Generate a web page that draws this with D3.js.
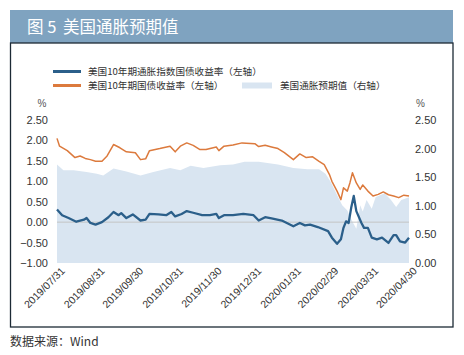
<!DOCTYPE html>
<html><head><meta charset="utf-8">
<script src="https://cdn.jsdelivr.net/npm/d3@7"></script>
<style>
body{margin:0;background:#fff;}
svg{display:block;}
text{font-family:"Liberation Sans",Arial,"Noto Sans CJK SC",sans-serif;}
.cjk{font-family:"Noto Sans CJK SC",sans-serif;}
</style></head>
<body><svg id="c" width="464" height="355"></svg>
<script>
// ---- data ----
const nomDates = ["2019-07-31","2019-08-02","2019-08-08","2019-08-14","2019-08-18","2019-08-22","2019-08-26","2019-08-30","2019-09-04","2019-09-08","2019-09-13","2019-09-18","2019-09-23","2019-09-30","2019-10-04","2019-10-08","2019-10-11","2019-10-19","2019-10-27","2019-10-31","2019-11-04","2019-11-09","2019-11-14","2019-11-19","2019-11-24","2019-12-02","2019-12-04","2019-12-08","2019-12-15","2019-12-22","2020-01-01","2020-01-04","2020-01-09","2020-01-14","2020-01-19","2020-01-24","2020-01-31","2020-02-05","2020-02-10","2020-02-15","2020-02-20","2020-02-24","2020-02-28","2020-03-01","2020-03-05","2020-03-08","2020-03-10","2020-03-13","2020-03-15","2020-03-17","2020-03-20","2020-03-23","2020-03-25","2020-03-29","2020-04-02","2020-04-06","2020-04-10","2020-04-14","2020-04-18","2020-04-22","2020-04-26","2020-04-30"];
const nomVals = [2.05,1.86,1.75,1.58,1.62,1.56,1.53,1.49,1.49,1.62,1.90,1.82,1.72,1.70,1.53,1.55,1.75,1.80,1.86,1.72,1.86,1.94,1.88,1.78,1.78,1.84,1.75,1.86,1.89,1.94,1.92,1.85,1.88,1.84,1.80,1.70,1.53,1.67,1.58,1.60,1.49,1.41,1.17,1.00,0.76,0.55,0.84,0.76,0.96,1.21,0.96,0.80,0.91,0.76,0.64,0.68,0.74,0.67,0.64,0.60,0.66,0.64];

const tipsDates = ["2019-07-31","2019-08-04","2019-08-09","2019-08-15","2019-08-21","2019-08-23","2019-08-26","2019-08-30","2019-09-04","2019-09-09","2019-09-13","2019-09-17","2019-09-19","2019-09-23","2019-09-28","2019-10-04","2019-10-08","2019-10-11","2019-10-18","2019-10-24","2019-10-28","2019-10-31","2019-11-05","2019-11-09","2019-11-14","2019-11-21","2019-11-27","2019-12-02","2019-12-04","2019-12-08","2019-12-15","2019-12-23","2019-12-31","2020-01-04","2020-01-09","2020-01-14","2020-01-22","2020-01-31","2020-02-05","2020-02-09","2020-02-13","2020-02-19","2020-02-27","2020-03-01","2020-03-05","2020-03-08","2020-03-10","2020-03-12","2020-03-14","2020-03-16","2020-03-18","2020-03-20","2020-03-24","2020-03-26","2020-03-29","2020-04-01","2020-04-05","2020-04-09","2020-04-14","2020-04-18","2020-04-20","2020-04-23","2020-04-27","2020-04-30"];
const tipsVals = [0.31,0.17,0.10,0.01,0.06,0.10,-0.02,-0.06,0.00,0.12,0.25,0.17,0.22,0.10,0.19,0.04,0.06,0.20,0.19,0.17,0.25,0.14,0.20,0.27,0.23,0.17,0.17,0.20,0.10,0.17,0.17,0.20,0.17,0.04,0.12,0.09,0.04,-0.10,-0.02,-0.08,-0.06,-0.12,-0.22,-0.38,-0.53,-0.42,-0.14,0.02,-0.02,0.35,0.64,0.27,-0.02,-0.14,-0.14,-0.38,-0.42,-0.38,-0.51,-0.32,-0.32,-0.47,-0.50,-0.38];

const beDates = ["2019-07-31","2019-08-05","2019-08-13","2019-08-23","2019-08-31","2019-09-05","2019-09-13","2019-09-23","2019-10-04","2019-10-14","2019-10-27","2019-11-04","2019-11-12","2019-11-22","2019-12-05","2019-12-15","2019-12-24","2020-01-04","2020-01-19","2020-01-31","2020-02-11","2020-02-20","2020-02-25","2020-02-29","2020-03-05","2020-03-09","2020-03-13","2020-03-17","2020-03-20","2020-03-23","2020-03-25","2020-03-28","2020-04-01","2020-04-04","2020-04-11","2020-04-16","2020-04-20","2020-04-24","2020-04-30"];
const beVals = [1.72,1.62,1.62,1.59,1.56,1.53,1.65,1.60,1.53,1.59,1.66,1.62,1.70,1.66,1.71,1.72,1.77,1.77,1.72,1.66,1.64,1.64,1.56,1.42,1.19,1.01,0.92,0.72,0.60,1.01,0.90,1.10,0.95,1.15,1.22,1.10,0.98,1.10,1.15];

const xTicks = ["2019-07-31","2019-08-31","2019-09-30","2019-10-31","2019-11-30","2019-12-31","2020-01-31","2020-02-29","2020-03-31","2020-04-30"];
const leftTicks = [2.5,2.0,1.5,1.0,0.5,0.0,-0.5,-1.0];
const rightTicks = [2.5,2.0,1.5,1.0,0.5,0.0];
const titleNum = "图 5";
const titleText = "美国通胀预期值";
const legendLabels = ["美国10年期通胀指数国债收益率（左轴）","美国10年期国债收益率（左轴）","美国通胀预期值（右轴）"];
const source = "数据来源：Wind";

// ---- drawing ----
const parse = d3.timeParse("%Y-%m-%d");
const svg = d3.select("#c");
const C = {blue:"#2b5f8a", orange:"#dc7a3d", area:"#d9e5f1", bar:"#7fa3c0"};

svg.append("rect").attr("x",10).attr("y",10).attr("width",443).attr("height",33).attr("fill",C.bar);
svg.append("text").attr("class","cjk").attr("x",27).attr("y",33).attr("fill","#fff")
  .attr("font-size",16.5).text(titleNum);
svg.append("text").attr("class","cjk").attr("x",63).attr("y",33).attr("fill","#fff")
  .attr("font-size",16.5).text(titleText);
svg.append("rect").attr("x",10.5).attr("y",43).attr("width",442.5).attr("height",284)
  .attr("fill","none").attr("stroke","#1d2a35").attr("stroke-width",1.3);

const x = d3.scaleTime().domain([parse(xTicks[0]), parse(xTicks[xTicks.length-1])]).range([57,409]);
const yL = d3.scaleLinear().domain([-1,2.5]).range([263,120]);
const yR = d3.scaleLinear().domain([0,2.5]).range([263,120]);

const be = beDates.map((d,i)=>({d:parse(d),v:beVals[i]}));
const nom = nomDates.map((d,i)=>({d:parse(d),v:nomVals[i]}));
const tips = tipsDates.map((d,i)=>({d:parse(d),v:tipsVals[i]}));

svg.append("path").datum(be).attr("fill",C.area)
  .attr("d", d3.area().x(d=>x(d.d)).y0(yR(0)).y1(d=>yR(d.v)));

svg.append("line").attr("x1",x.range()[0]).attr("x2",x.range()[1])
  .attr("y1",yL(0)).attr("y2",yL(0)).attr("stroke","#c4c4c4").attr("stroke-width",1);

svg.append("path").datum(nom).attr("fill","none").attr("stroke",C.orange).attr("stroke-width",1.5)
  .attr("stroke-linejoin","round").attr("d", d3.line().x(d=>x(d.d)).y(d=>yL(d.v)));
svg.append("path").datum(tips).attr("fill","none").attr("stroke",C.blue).attr("stroke-width",2.3)
  .attr("stroke-linejoin","round").attr("d", d3.line().x(d=>x(d.d)).y(d=>yL(d.v)));

// axes
const fmt = d3.format(".2f");
const gL = svg.append("g").attr("transform","translate(48,0)")
  .call(d3.axisLeft(yL).tickValues(leftTicks).tickFormat(fmt).tickSize(0).tickPadding(0));
gL.select(".domain").remove();
gL.selectAll("text").attr("font-size",11).attr("fill","#333").attr("font-family","Liberation Sans, Arial");

const gR = svg.append("g").attr("transform","translate(415,0)")
  .call(d3.axisRight(yR).tickValues(rightTicks).tickFormat(fmt).tickSize(0).tickPadding(0));
gR.select(".domain").remove();
gR.selectAll("text").attr("font-size",11).attr("fill","#333").attr("font-family","Liberation Sans, Arial");

const gX = svg.append("g")
  .call(d3.axisBottom(x).tickValues(xTicks.map(parse)).tickFormat(d3.timeFormat("%Y/%m/%d")).tickSize(0));
gX.select(".domain").remove();
gX.selectAll(".tick").attr("transform", null);
gX.selectAll(".tick text")
  .attr("font-size",10.5).attr("fill","#333").attr("font-family","Liberation Sans, Arial")
  .attr("text-anchor","end").attr("y",null).attr("dy","0.35em")
  .attr("transform", d=>`translate(${x(d)+6},269) rotate(-45)`);

svg.append("text").attr("x",42).attr("y",107).attr("text-anchor","middle").attr("font-size",10).attr("fill","#555").text("%");
svg.append("text").attr("x",416).attr("y",107).attr("font-size",10).attr("fill","#555").text("%");

// legend
const lg = svg.append("g");
lg.append("line").attr("x1",53).attr("x2",81).attr("y1",71.5).attr("y2",71.5).attr("stroke",C.blue).attr("stroke-width",3);
lg.append("line").attr("x1",53).attr("x2",81).attr("y1",85.5).attr("y2",85.5).attr("stroke",C.orange).attr("stroke-width",3);
lg.append("rect").attr("x",242).attr("y",82.5).attr("width",30).attr("height",6).attr("fill",C.area);
[[88,71.5],[88,85.5],[280,85.5]].forEach((p,i)=>{
  lg.append("text").attr("class","cjk").attr("x",p[0]).attr("y",p[1]).attr("dy","0.35em")
    .attr("font-size",9.6).attr("fill","#333").text(legendLabels[i]);
});

svg.append("text").attr("class","cjk").attr("x",10).attr("y",346).attr("font-size",12).attr("fill","#333").text(source);
</script>
</body></html>
